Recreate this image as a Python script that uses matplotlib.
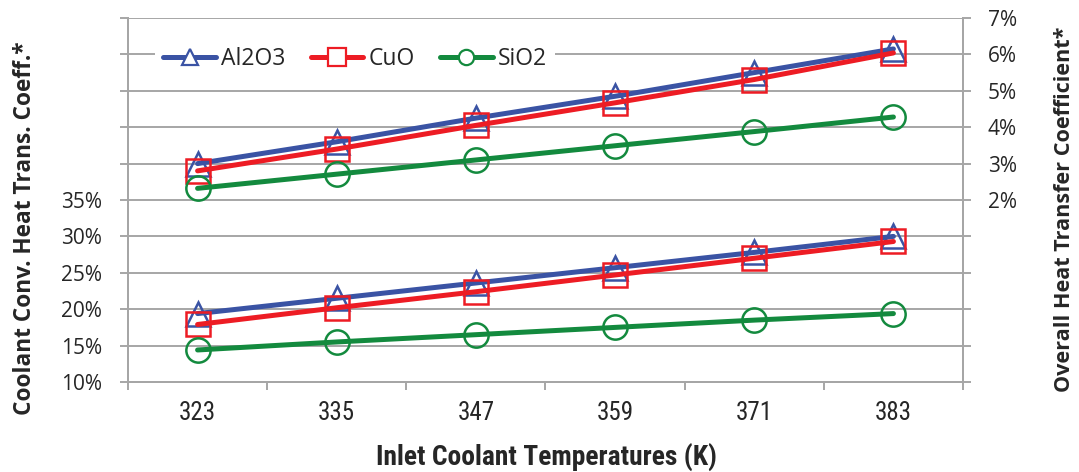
import matplotlib
matplotlib.use("Agg")
import matplotlib.pyplot as plt
from matplotlib.lines import Line2D
from matplotlib.ticker import FuncFormatter, FixedLocator
from matplotlib import font_manager

# Inlet coolant temperatures (K)
temperatures = ["323", "335", "347", "359", "371", "383"]

# Coolant convective heat transfer coefficient enhancement (%), left axis
conv_al2o3 = [19.4, 21.5, 23.6, 25.7, 27.8, 30.0]
conv_cuo = [17.9, 20.2, 22.4, 24.7, 27.0, 29.3]
conv_sio2 = [14.4, 15.5, 16.5, 17.5, 18.5, 19.4]

# Overall heat transfer coefficient enhancement (%), right axis
overall_al2o3 = [3.0, 3.6, 4.25, 4.85, 5.5, 6.15]
overall_cuo = [2.8, 3.4, 4.05, 4.67, 5.31, 6.04]
overall_sio2 = [2.32, 2.71, 3.1, 3.49, 3.88, 4.28]

series_names = ["Al2O3", "CuO", "SiO2"]
colors = ["#3A53A4", "#ED1C24", "#138A3E"]
markers = ["^", "s", "o"]
marker_sizes = [17, 17, 17.5]
legend_marker_sizes = [11, 13, 11]

GRID = "#A6A6A6"
TEXT = "#262626"

# Pick a narrow face for the temperature axis if one is available
names = {f.name for f in font_manager.fontManager.ttflist}
narrow = None
for cand in ["Liberation Sans Narrow", "Roboto Condensed", "Open Sans Condensed",
             "DejaVu Sans Condensed", "Noto Sans Condensed"]:
    if cand in names:
        narrow = cand
        break
narrow_family = [narrow, "Open Sans"] if narrow else ["Open Sans"]

fig = plt.figure(figsize=(10.79, 4.72), dpi=100)
W, H = 1079, 472
ax = fig.add_axes([128 / W, 1 - 382 / H, (963 - 128) / W, (382 - 18) / H])
ax2 = ax.twinx()

x = list(range(len(temperatures)))

lw = 3.6
mew = 1.8
for vals, c, m, ms in zip([conv_al2o3, conv_cuo, conv_sio2], colors, markers, marker_sizes):
    ax.plot(x, vals, color=c, lw=lw, marker=m, ms=ms, mfc="none", mec=c, mew=mew,
            solid_capstyle="round", zorder=3)
for vals, c, m, ms in zip([overall_al2o3, overall_cuo, overall_sio2], colors, markers, marker_sizes):
    ax2.plot(x, vals, color=c, lw=lw, marker=m, ms=ms, mfc="none", mec=c, mew=mew,
             solid_capstyle="round", zorder=3)

# Left axis: 10% .. 60%, labelled up to 35%
ax.set_ylim(10, 60)
ax.yaxis.set_major_locator(FixedLocator(range(10, 61, 5)))
ax.yaxis.set_major_formatter(FuncFormatter(lambda v, p: f"{v:.0f}%" if v <= 35 else ""))
# Right axis: -3% .. 7%, labelled from 2%
ax2.set_ylim(-3, 7)
ax2.yaxis.set_major_locator(FixedLocator(range(-3, 8)))
ax2.yaxis.set_major_formatter(FuncFormatter(lambda v, p: f"{v:.0f}%" if v >= 2 else ""))

ax.set_xlim(-0.5, len(temperatures) - 0.5)
ax.set_xticks(x)
ax.set_xticklabels(temperatures)
ax.set_xticks([i - 0.5 for i in range(len(temperatures) + 1)], minor=True)
ax.tick_params(axis="x", which="major", length=0, pad=14)
ax.tick_params(axis="x", which="minor", length=5.8, width=1.4, color=GRID, direction="out")

ax.grid(axis="y", color=GRID, lw=1.4, zorder=0)
ax.set_axisbelow(True)
ax.tick_params(axis="y", length=5.8, width=1.4, color=GRID, pad=13)
ax2.tick_params(axis="y", length=5.8, width=1.4, color=GRID, pad=12)

for a in (ax, ax2):
    a.spines["top"].set_visible(False)
    for side in ("left", "right", "bottom"):
        a.spines[side].set_color(GRID)
        a.spines[side].set_linewidth(1.4)

for lab in ax.get_yticklabels() + ax2.get_yticklabels():
    lab.set_fontfamily("Open Sans")
    lab.set_fontsize(15)
    lab.set_color(TEXT)
for lab in ax.get_xticklabels():
    lab.set_fontfamily(narrow_family)
    lab.set_fontstretch("condensed")
    lab.set_fontsize(18)
    lab.set_color(TEXT)

# Legend with smaller markers
handles = [Line2D([], [], color=c, lw=lw, marker=m, ms=ms, mfc="white", mec=c, mew=1.6,
                  solid_capstyle="round")
           for c, m, ms in zip(colors, markers, legend_marker_sizes)]
leg = ax2.legend(handles, series_names, loc="upper left", bbox_to_anchor=(0.019, 0.975),
                 ncol=3, frameon=True, fancybox=False, framealpha=1, edgecolor="none",
                 handlelength=2.3, handletextpad=0.22, columnspacing=1.1,
                 borderpad=0.35, prop={"family": "Open Sans", "size": 16.5})
for t in leg.get_texts():
    t.set_color(TEXT)

fig.text(25 / W, 1 - 228 / H, "Coolant Conv. Heat Trans. Coeff.*", rotation=90,
         ha="center", va="center", fontsize=16.3, fontweight="bold",
         fontfamily="Open Sans", color=TEXT)
fig.text(1065 / W, 1 - 209 / H, "Overall Heat Transfer Coefficient*", rotation=90,
         ha="center", va="center", fontsize=15.6, fontweight="bold",
         fontfamily="Open Sans", color=TEXT)
fig.text(546 / W, 1 - 457 / H, "Inlet Coolant Temperatures (K)",
         ha="center", va="center", fontsize=19.8, fontweight="bold",
         fontfamily=narrow_family, fontstretch="condensed", color=TEXT)

fig.savefig("out.png", dpi=100, facecolor="white")
